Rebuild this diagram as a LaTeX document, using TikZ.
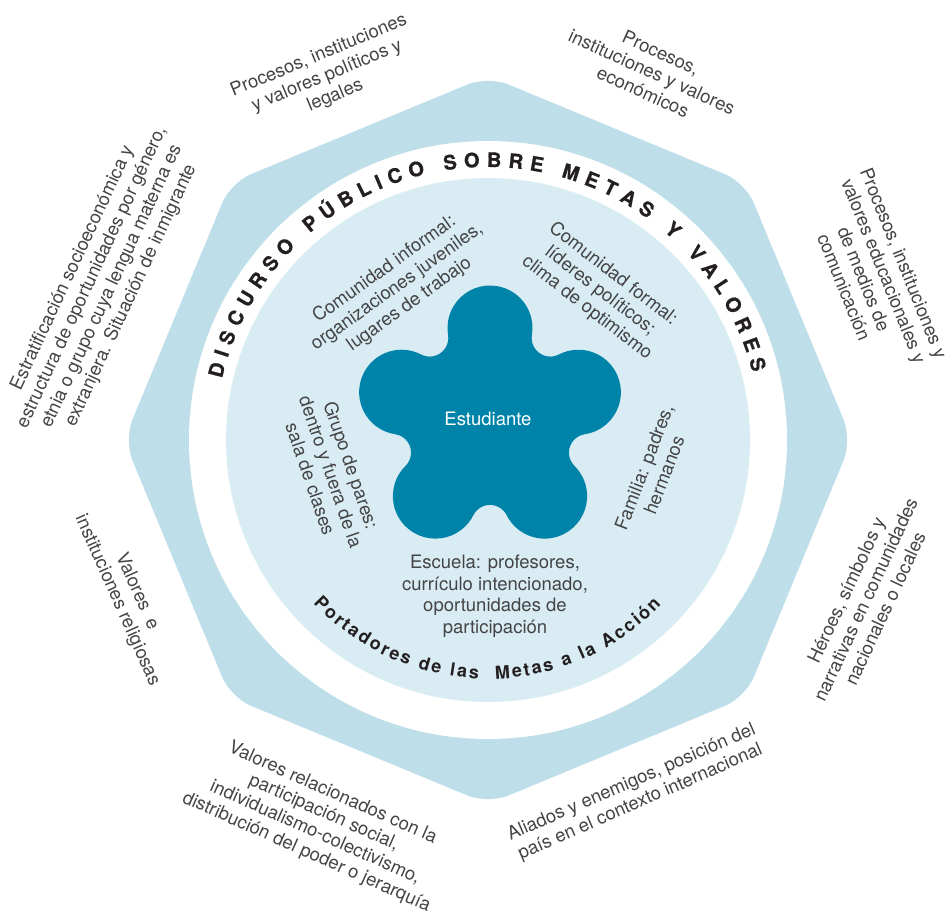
\documentclass[tikz,border=0pt]{standalone}
\usepackage{fontspec}
\setmainfont{TeX Gyre Heros}
\newfontfamily\heavyfont[FakeBold=0.8]{TeX Gyre Heros Bold}
\usetikzlibrary{decorations.text,calc}
\definecolor{octa}{HTML}{BEDEEA}
\definecolor{disc}{HTML}{D9ECF4}
\definecolor{petal}{HTML}{0083A8}
\definecolor{txt}{HTML}{444444}
\definecolor{boldtxt}{HTML}{231F20}
\newcommand{\lblfont}{\fontsize{18.5}{21.5}\selectfont}
\newcommand{\discfont}{\fontsize{20}{24}\selectfont\heavyfont}
\newcommand{\portfont}{\fontsize{18}{21}\selectfont\bfseries}
\begin{document}
\begin{tikzpicture}[x=1pt,y=1pt,
  lbl/.style={text=txt, font=\lblfont, align=center, inner sep=0pt}]
\useasboundingbox (-488,-474) rectangle (464,440);
% octagon
\fill[octa, rounded corners=22pt] (22.5:336.3) -- (45:364) -- (90:364) -- (135:364) -- (180:364)
  -- (225:364) -- (270:364) -- (315:364) -- (360:364) -- cycle;
% rings
\fill[white] (0,0) circle (299);
\fill[disc] (0,0) circle (262);
% flower
\coordinate (fc) at (2,19);
\fill[petal] ($(fc)+(90:93)+(-9.4:42.5)$)
  \foreach \a in {90,162,234,306,378} {
    arc[start angle=\a-99.4, end angle=\a+99.4, radius=42.5]
    arc[start angle=\a+279.4, end angle=\a+152.6, radius=18.6]
  } -- cycle;
\node[text=white, font=\lblfont, inner sep=0pt] (est) at (0,21) {Estudiante};
% curved titles
\path[decorate, decoration={text along path, text color=boldtxt, text align=fit to path,
  text={|\discfont|DISCURSO PÚBLICO SOBRE METAS Y VALORES}}]
  (167:273) arc[start angle=167, end angle=14.3, radius=273];
\path[decorate, decoration={text along path, text color=boldtxt, text align=fit to path,
  text={|\portfont|Portadores de las {\ }Metas a la Acción}}]
  (-137:239) arc[start angle=-137, end angle=-43.5, radius=239];
% inner labels
\node[lbl, rotate=35.5] (informal) at (-91,153) {Comunidad informal:\\organizaciones juveniles,\\lugares de trabajo};
\node[lbl, rotate=-37.5] (formal) at (112,149) {Comunidad formal:\\líderes políticos;\\clima de optimismo};
\node[lbl, rotate=-71] (pares) at (-157,-32) {Grupo de pares:\\dentro y fuera de la\\sala de clases};
\node[lbl, rotate=69] (familia) at (166,-31) {Familia: padres,\\hermanos};
\node[lbl] (escuela) at (7,-156) {Escuela: profesores,\\currículo intencionado,\\oportunidades de\\participación};
% outer labels
\node[lbl, rotate=22.5] (pol) at (-161,364) {Procesos, instituciones\\y valores políticos y\\legales};
\node[lbl, rotate=-24.5] (eco) at (164,368) {Procesos,\\instituciones y valores\\económicos};
\node[lbl, rotate=-68] (edu) at (386,165) {Procesos, instituciones y\\valores educacionales y\\de medios de\\comunicación};
\node[lbl, rotate=65] (her) at (377.5,-159.5) {Héroes, símbolos y\\narrativas en comunidades\\nacionales o locales};
\node[lbl, rotate=23.5] (ali) at (148,-352.5) {Aliados y enemigos, posición del\\país en el contexto internacional};
\node[lbl, rotate=-24] (val) at (-168.5,-383) {Valores relacionados con la\\participación social,\\individualismo-colectivismo,\\distribución del poder o jerarquía};
\node[lbl, rotate=-66] (rel) at (-361,-156) {Valores\ \ e\\instituciones religiosas};
\node[lbl, rotate=65] (estr) at (-386,158) {Estratificación socioeconómica y\\estructura de oportunidades por género,\\etnia o grupo cuya lengua materna es\\extranjera. Situación de inmigrante};
\end{tikzpicture}
\end{document}
